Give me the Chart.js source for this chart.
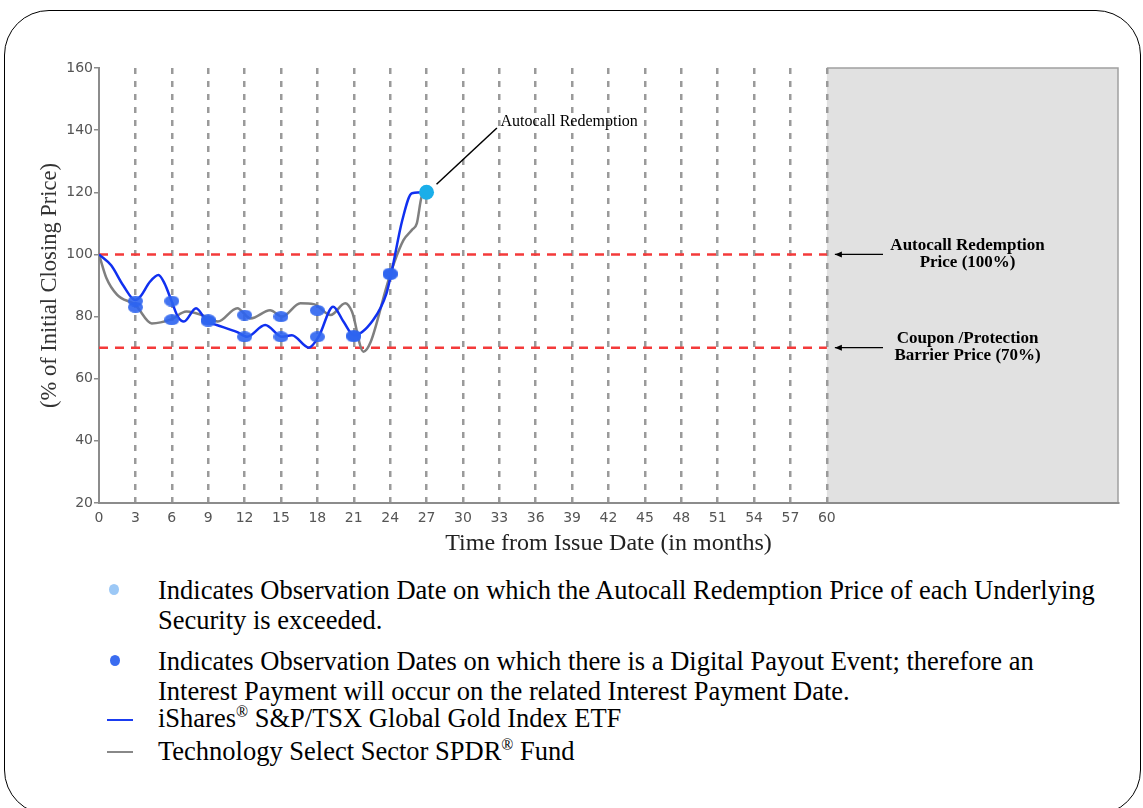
<!DOCTYPE html>
<html>
<head>
<meta charset="utf-8">
<script src="https://cdn.jsdelivr.net/npm/chart.js@4.4.0/dist/chart.umd.min.js"></script>
<style>
  html, body { margin: 0; padding: 0; background: #fff; }
  body { width: 1143px; height: 808px; position: relative; overflow: hidden; font-family: "Liberation Serif", "Times New Roman", serif; }
  .frame { position: absolute; left: 4px; top: 10px; width: 1137px; height: 805px; border: 1.5px solid #000; border-radius: 45px; box-sizing: border-box; }
  .wrap { position: absolute; left: 0; top: 0; width: 1143px; height: 565px; }
  .note { position: absolute; left: 158px; font-size: 26.5px; line-height: 30px; color: #000; white-space: nowrap; }
  .note sup { font-size: 60%; line-height: 0; }
  .dot { position: absolute; width: 10px; height: 11px; border-radius: 50%; }
  .dash { position: absolute; width: 26px; height: 2px; }
</style>
</head>
<body>
<div class="frame"></div>
<div class="wrap"><canvas id="chart" width="1143" height="565"></canvas></div>

<div class="dot" style="left:109px; top:584px; background:#9cc8f6;"></div>
<div class="note" style="top:575px;">Indicates Observation Date on which the Autocall Redemption Price of each Underlying</div>
<div class="note" style="top:605px;">Security is exceeded.</div>
<div class="dot" style="left:110px; top:655px; background:#3a6cf0;"></div>
<div class="note" style="top:646px;">Indicates Observation Dates on which there is a Digital Payout Event; therefore an</div>
<div class="note" style="top:676px;">Interest Payment will occur on the related Interest Payment Date.</div>
<div class="dash" style="left:107px; top:719px; background:#1a3cf0;"></div>
<div class="note" style="top:703px;">iShares<sup>®</sup> S&amp;P/TSX Global Gold Index ETF</div>
<div class="dash" style="left:107px; top:751px; background:#888;"></div>
<div class="note" style="top:736px;">Technology Select Sector SPDR<sup>®</sup> Fund</div>

<script>
// iShares gold ETF path (% of initial closing price)
const goldMonths = [0, 1, 2, 3, 3.4, 4.2, 4.9, 5.4, 6, 6.5, 7, 8, 8.9, 9.7, 11.4, 12.2, 13.7, 15.1, 15.9, 17.3, 18.1, 19.3, 20.15, 21, 22.6, 23.7, 24.1, 25, 25.8, 27];
const goldValues = [100, 96.5, 90, 85.3, 86.4, 91.2, 93.4, 90.7, 84.8, 80, 78.4, 82.7, 78.4, 77.3, 75, 73.5, 77.3, 73.5, 74, 70, 73.5, 83.2, 78.4, 74, 78.9, 87.5, 94, 111, 119.7, 120];

// Technology SPDR path
const techMonths = [0, 0.6, 1.5, 3, 4.35, 5.9, 7.2, 9.2, 9.8, 11.4, 12.5, 14.1, 15.1, 16.6, 17.7, 19.1, 20.3, 20.85, 21.8, 22.4, 23.7, 24.3, 25.1, 25.8, 26.2, 26.6, 27];
const techValues = [100, 92.5, 87, 83.7, 77.8, 79, 81.6, 79.4, 78.4, 82.7, 79.4, 82, 80, 84.3, 84, 80.5, 84.3, 81.6, 68.7, 71.9, 89.6, 97, 104.6, 107.9, 110, 118.6, 120];

// observation dates with digital payout markers
const obsMonths = [3, 6, 9, 12, 15, 18, 21, 24];
const goldObs = [85, 85, 78.5, 73.5, 73.5, 73.5, 74, 94];
const techObs = [83, 79, 79, 80.5, 80, 82, 73.5, 93.5];

const autocallMonth = [27];
const autocallValue = [120];

const autocallLevel = 100;
const barrierLevel = 70;
const termMonths = 60;
const axisMax = 84;

function toXY(xs, ys) {
  return xs.map((x, i) => ({ x: x, y: ys[i] }));
}

function makeDot(w, h, color) {
  const c = document.createElement("canvas");
  c.width = w;
  c.height = h;
  const g = c.getContext("2d");
  g.fillStyle = color;
  g.beginPath();
  g.ellipse(w / 2, h / 2, w / 2, h / 2, 0, 0, Math.PI * 2);
  g.fill();
  return c;
}
const payoutDot = makeDot(15, 11, "rgba(45,100,240,0.9)");

function arrowLeft(ctx, x1, x2, y) {
  ctx.beginPath();
  ctx.moveTo(x1, y);
  ctx.lineTo(x2, y);
  ctx.stroke();
  ctx.beginPath();
  ctx.moveTo(x2, y);
  ctx.lineTo(x2 + 7, y - 3);
  ctx.lineTo(x2 + 7, y + 3);
  ctx.closePath();
  ctx.fill();
}

const extras = {
  id: "extras",
  beforeDraw(chart) {
    const ctx = chart.ctx;
    const area = chart.chartArea;
    const xs = chart.scales.x;
    const left = xs.getPixelForValue(termMonths);
    ctx.save();
    ctx.fillStyle = "#e1e1e1";
    ctx.fillRect(left, area.top, area.right - left, area.bottom - area.top);
    ctx.strokeStyle = "#a0a0a0";
    ctx.lineWidth = 1.5;
    ctx.beginPath();
    ctx.moveTo(left, area.top);
    ctx.lineTo(area.right, area.top);
    ctx.lineTo(area.right, area.bottom);
    ctx.stroke();
    ctx.restore();
  },
  afterDraw(chart) {
    const ctx = chart.ctx;
    const xs = chart.scales.x;
    const ys = chart.scales.y;
    ctx.save();
    ctx.strokeStyle = "#000";
    ctx.fillStyle = "#000";
    ctx.lineWidth = 1.2;

    // level labels inside the grey box
    const ax = xs.getPixelForValue(termMonths) + 8;
    const tx = xs.getPixelForValue(71.6);
    [[autocallLevel, "Autocall Redemption", "Price (100%)"],
     [barrierLevel, "Coupon /Protection", "Barrier Price (70%)"]].forEach(function (item) {
      const y = ys.getPixelForValue(item[0]);
      arrowLeft(ctx, 883, ax, y);
      ctx.font = "bold 17px 'Liberation Serif'";
      ctx.textAlign = "center";
      ctx.textBaseline = "middle";
      ctx.fillText(item[1], tx, y - 9);
      ctx.fillText(item[2], tx, y + 8);
    });

    // autocall callout
    const px = xs.getPixelForValue(autocallMonth[0]);
    const py = ys.getPixelForValue(autocallValue[0]);
    ctx.lineWidth = 1.5;
    ctx.beginPath();
    ctx.moveTo(px + 10, py - 8);
    ctx.lineTo(xs.getPixelForValue(32.8), ys.getPixelForValue(140.7));
    ctx.stroke();
    ctx.font = "16px 'Liberation Serif'";
    ctx.textAlign = "left";
    ctx.textBaseline = "middle";
    ctx.fillText("Autocall Redemption", xs.getPixelForValue(33.1), ys.getPixelForValue(142.7));
    ctx.restore();
  }
};

const tickFont = { family: "DejaVu Sans", size: 14 };

new Chart(document.getElementById("chart"), {
  type: "line",
  data: {
    datasets: [
      {
        label: "Autocall",
        type: "scatter",
        data: toXY(autocallMonth, autocallValue),
        pointRadius: 7.5,
        pointBackgroundColor: "#1aaee9",
        pointBorderWidth: 0,
        showLine: false
      },
      {
        label: "Gold obs",
        type: "scatter",
        data: toXY(obsMonths, goldObs),
        pointStyle: payoutDot,
        showLine: false
      },
      {
        label: "Tech obs",
        type: "scatter",
        data: toXY(obsMonths, techObs),
        pointStyle: payoutDot,
        showLine: false
      },
      {
        label: "iShares S&P/TSX Global Gold Index ETF",
        data: toXY(goldMonths, goldValues),
        borderColor: "#1030f0",
        borderWidth: 2.5,
        pointRadius: 0,
        cubicInterpolationMode: "monotone"
      },
      {
        label: "Technology Select Sector SPDR Fund",
        data: toXY(techMonths, techValues),
        borderColor: "#7f7f7f",
        borderWidth: 2.5,
        pointRadius: 0,
        cubicInterpolationMode: "monotone"
      },
      {
        label: "Autocall level",
        data: toXY([0, termMonths], [autocallLevel, autocallLevel]),
        borderColor: "#f43a3a",
        borderWidth: 2.5,
        borderDash: [9, 7],
        pointRadius: 0
      },
      {
        label: "Barrier level",
        data: toXY([0, termMonths], [barrierLevel, barrierLevel]),
        borderColor: "#f43a3a",
        borderWidth: 2.5,
        borderDash: [9, 7],
        pointRadius: 0
      }
    ]
  },
  options: {
    responsive: false,
    animation: false,
    events: [],
    layout: { padding: { top: 68, right: 25, left: 0, bottom: 0 } },
    plugins: { legend: { display: false }, tooltip: { enabled: false } },
    scales: {
      x: {
        type: "linear",
        min: 0,
        max: axisMax,
        afterFit: function (s) { s.height = 62; },
        ticks: {
          stepSize: 3,
          autoSkip: false,
          maxRotation: 0,
          padding: 7,
          color: "#555",
          font: tickFont,
          callback: function (v) { return v <= termMonths ? v : ""; }
        },
        grid: {
          drawTicks: false,
          lineWidth: 2.5,
          color: function (c) {
            const v = c.tick ? c.tick.value : 0;
            return v > 0 && v <= termMonths ? "#9a9a9a" : "rgba(0,0,0,0)";
          }
        },
        border: { display: true, color: "#8c8c8c", width: 2, dash: [6, 7] },
        title: {
          display: true,
          text: "Time from Issue Date (in months)",
          color: "#222",
          font: { family: "Liberation Serif", size: 24 },
          padding: { top: 0, bottom: 7 }
        }
      },
      y: {
        min: 20,
        max: 160,
        afterFit: function (s) { s.width = 99; },
        ticks: { stepSize: 20, padding: 1, color: "#555", font: tickFont },
        grid: { drawOnChartArea: false, drawTicks: true, tickLength: 5, color: "#8c8c8c", lineWidth: 1.5 },
        border: { display: true, color: "#8c8c8c", width: 2 },
        title: {
          display: true,
          text: "(% of Initial Closing Price)",
          color: "#333",
          font: { family: "Liberation Serif", size: 22.5 },
          padding: { top: 37, bottom: 0 }
        }
      }
    }
  },
  plugins: [extras]
});
</script>
</body>
</html>
